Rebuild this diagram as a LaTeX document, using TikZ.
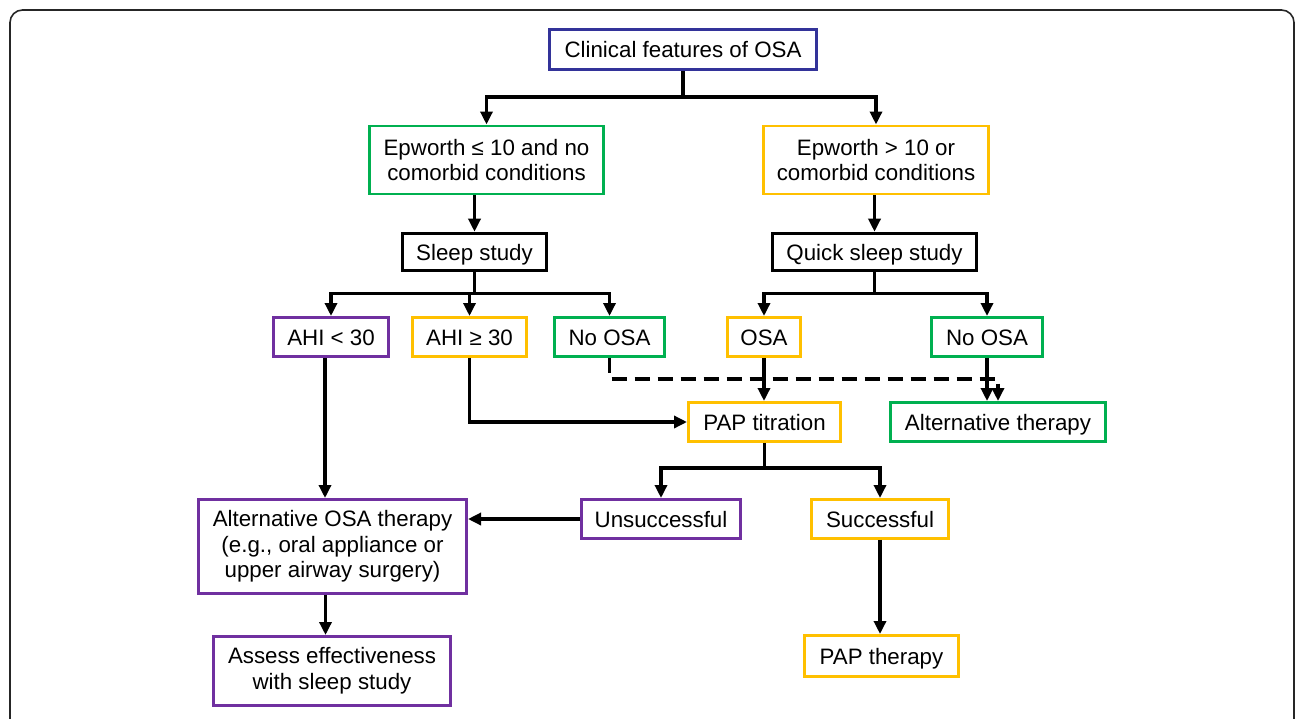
\documentclass[tikz,border=0pt]{standalone}
\usepackage{fontspec}
\setmainfont{Liberation Sans}
\usetikzlibrary{arrows.meta}

\definecolor{osablue}{HTML}{333399}
\definecolor{osagreen}{HTML}{00B050}
\definecolor{osagold}{HTML}{FFC000}
\definecolor{osapurple}{HTML}{7030A0}

\begin{document}
\begin{tikzpicture}[font=\fontsize{12.7}{14.6}\selectfont]

% Styles for elements
\tikzstyle{tall}       = [rectangle, draw, line width=1.7pt, align=center, inner sep=2pt]
\tikzstyle{box}        = [tall, text height=1.05em, text depth=0.1em]
\tikzstyle{box_blue}   = [draw=osablue]
\tikzstyle{box_green}  = [draw=osagreen]
\tikzstyle{box_gold}   = [draw=osagold]
\tikzstyle{box_purple} = [draw=osapurple]
\tikzstyle{box_black}  = [draw=black, line width=2pt]
\tikzstyle{conn}       = [draw=black, line width=2pt, -{Triangle[length=0.26cm, width=0.24cm]}]
\tikzstyle{conn_dash}  = [conn, dash pattern=on 0.3cm off 0.16cm]

	\useasboundingbox (0,0) rectangle (25.9,-14.38);
	\draw[rounded corners=0.25cm, line width=0.9pt, black!85] (0.2,-0.2) rectangle (25.88,-15); % Frame

	% Top
	\node[box, box_blue]   (clinical)     [minimum width=5.34cm, minimum height=0.8cm] at (13.66,-0.99) {Clinical features of OSA};
	\node[tall, box_green] (epworth_low)  [minimum width=4.68cm, minimum height=1.36cm] at (9.73,-3.20)  {Epworth ≤ 10 and no\\comorbid conditions};
	\node[tall, box_gold]  (epworth_high) [minimum width=4.50cm, minimum height=1.36cm] at (17.52,-3.20) {Epworth > 10 or\\comorbid conditions};
	\draw[conn] (clinical.south) -- ++(0,-0.52) -| (epworth_low.north);
	\draw[conn] (clinical.south) -- ++(0,-0.52) -| (epworth_high.north);

	% Sleep studies
	\node[box, box_black] (sleep_study)  [minimum width=2.88cm, minimum height=0.74cm] at (9.49,-5.04)  {Sleep study};
	\node[box, box_black] (quick_study)  [minimum width=4.08cm, minimum height=0.74cm] at (17.49,-5.04) {Quick sleep study};
	\draw[conn] (epworth_low.south -| sleep_study.north) -- (sleep_study.north);
	\draw[conn] (epworth_high.south -| quick_study.north) -- (quick_study.north);

	% Results
	\node[box, box_purple] (ahi_low)      [minimum width=2.30cm, minimum height=0.78cm] at (6.62,-6.74)  {AHI < 30};
	\node[box, box_gold]   (ahi_high)     [minimum width=2.28cm, minimum height=0.78cm] at (9.39,-6.74)  {AHI ≥ 30};
	\node[box, box_green]  (no_osa_left)  [minimum width=2.20cm, minimum height=0.78cm] at (12.19,-6.74) {No OSA};
	\node[box, box_gold]   (osa)          [minimum width=1.46cm, minimum height=0.78cm] at (15.28,-6.74) {OSA};
	\node[box, box_green]  (no_osa_right) [minimum width=2.22cm, minimum height=0.78cm] at (19.74,-6.74) {No OSA};
	\draw[conn] (sleep_study.south) -- ++(0,-0.42) -| (ahi_low.north);
	\draw[conn] (sleep_study.south) -- ++(0,-0.42) -| (ahi_high.north);
	\draw[conn] (sleep_study.south) -- ++(0,-0.42) -| (no_osa_left.north);
	\draw[conn] (quick_study.south) -- ++(0,-0.42) -| (osa.north);
	\draw[conn] (quick_study.south) -- ++(0,-0.42) -| (no_osa_right.north);

	% Treatment
	\node[box, box_gold]  (pap_titration) [minimum width=3.04cm, minimum height=0.78cm] at (15.29,-8.44) {PAP titration};
	\node[box, box_green] (alt_therapy)   [minimum width=4.30cm, minimum height=0.78cm] at (19.96,-8.44) {Alternative therapy};
	\draw[conn] (ahi_high.south) |- (pap_titration.west);
	\draw[conn] (osa.south) -- (osa.south |- pap_titration.north);
	\draw[conn_dash] (no_osa_left.south) -- ++(0,-0.42) -| (alt_therapy.north); % Dashed
	\draw[conn] (no_osa_right.south) -- (no_osa_right.south |- alt_therapy.north);

	% Outcome
	\node[tall, box_purple] (alt_osa)     [minimum width=5.36cm, minimum height=1.88cm] at (6.65,-10.93) {Alternative OSA therapy\\(e.g., oral appliance or\\upper airway surgery)};
	\node[box, box_purple] (unsuccessful) [minimum width=3.18cm, minimum height=0.78cm] at (13.22,-10.38) {Unsuccessful};
	\node[box, box_gold]   (successful)   [minimum width=2.74cm, minimum height=0.78cm] at (17.60,-10.38) {Successful};
	\draw[conn] ([xshift=-0.12cm]ahi_low.south) -- ([xshift=-0.12cm]ahi_low.south |- alt_osa.north);
	\draw[conn] (pap_titration.south) -- ++(0,-0.5) -| (unsuccessful.north);
	\draw[conn] (pap_titration.south) -- ++(0,-0.5) -| (successful.north);
	\draw[conn] (unsuccessful.west) -- (unsuccessful.west -| alt_osa.east);

	% Follow up
	\node[tall, box_purple] (assess)     [minimum width=4.74cm, minimum height=1.38cm] at (6.64,-13.42) {Assess effectiveness\\with sleep study};
	\node[box, box_gold]    (pap_therapy) [minimum width=3.08cm, minimum height=0.82cm] at (17.63,-13.12) {PAP therapy};
	\draw[conn] ([xshift=-0.14cm]alt_osa.south) -- ([xshift=-0.14cm]alt_osa.south |- assess.north);
	\draw[conn] (successful.south) -- (successful.south |- pap_therapy.north);

\end{tikzpicture}
\end{document}
